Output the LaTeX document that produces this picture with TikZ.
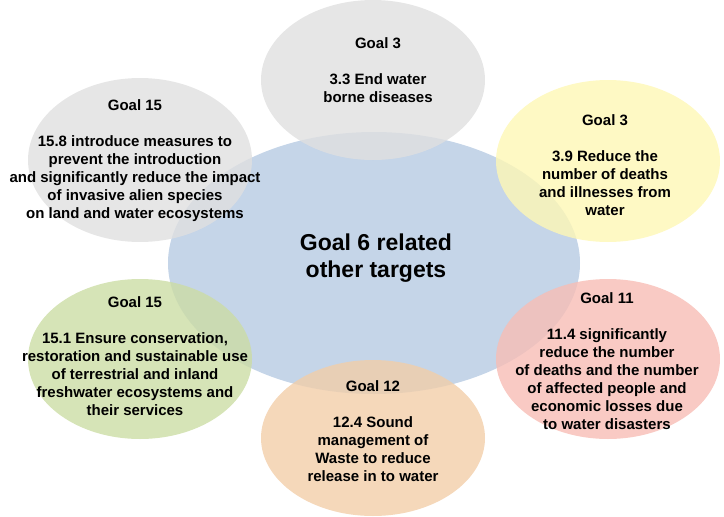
\documentclass[tikz,border=0pt]{standalone}
\usepackage{fontspec}
\setmainfont{Liberation Sans}
\usetikzlibrary{shapes.geometric}

\definecolor{goalblue}{RGB}{182,202,226}
\definecolor{goalgrey}{RGB}{224,224,224}
\definecolor{goalyellow}{RGB}{254,247,181}
\definecolor{goalgreen}{RGB}{204,221,165}
\definecolor{goalorange}{RGB}{242,206,169}
\definecolor{goalred}{RGB}{247,189,181}

\tikzset{
  blob/.style={ellipse, inner sep=0pt, minimum width=224pt, minimum height=160pt, fill opacity=0.8},
  goaltext/.style={align=center, inner sep=0pt, font=\fontsize{15}{18}\selectfont\bfseries},
}

\begin{document}
\begin{tikzpicture}[x=1pt, y=-1pt]
        \useasboundingbox (0,0) rectangle (724,517);
        % ellipses
        \node[blob, fill=goalblue, minimum width=412pt, minimum height=262pt] (main) at (374, 263) {};
        \node[blob, fill=goalgrey] (sdg3a) at (373, 80) {};
        \node[blob, fill=goalgrey, minimum height=164pt] (sdg15a) at (140, 160) {};
        \node[blob, fill=goalyellow, minimum height=162pt] (sdg3b) at (608, 161) {};
        \node[blob, fill=goalgreen] (sdg15b) at (140, 359) {};
        \node[blob, fill=goalorange, minimum height=156pt] (sdg12) at (373, 438) {};
        \node[blob, fill=goalred] (sdg11) at (608, 359) {};
        % texts
        \node[align=center, font=\fontsize{23}{27}\selectfont\bfseries] (maintext) at (376, 258) {Goal 6 related\\other targets};
        \node[goaltext] (t3a) at (378, 70) {Goal 3\\[18pt]3.3 End water\\borne diseases};
        \node[goaltext] (t15a) at (135, 161) {Goal 15\\[18pt]15.8 introduce measures to\\prevent the introduction\\and significantly reduce the impact\\of invasive alien species\\on land and water ecosystems};
        \node[goaltext] (t3b) at (605, 165) {Goal 3\\[18pt]3.9 Reduce the\\number of deaths\\and illnesses from\\water};
        \node[goaltext] (t15b) at (135, 356) {Goal 15\\[18pt]15.1 Ensure conservation,\\restoration and sustainable use\\of terrestrial and inland\\freshwater ecosystems and\\their services};
        \node[goaltext] (t12) at (373, 431) {Goal 12\\[18pt]12.4 Sound\\management of\\Waste to reduce\\release in to water};
        \node[goaltext] (t11) at (607, 361) {Goal 11\\[18pt]11.4 significantly\\reduce the number\\of deaths and the number\\of affected people and\\economic losses due\\to water disasters};
    \end{tikzpicture}
\end{document}
